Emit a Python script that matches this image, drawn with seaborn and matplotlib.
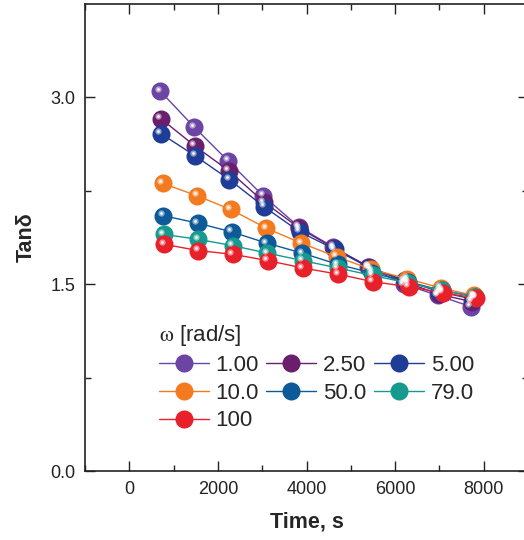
#!/usr/bin/env python3
# Tan delta vs time at several frequencies

import pandas as pd
import matplotlib.pyplot as plt
import matplotlib.transforms as mtransforms
from matplotlib.ticker import MultipleLocator, FixedLocator
import seaborn as sns

# ============================================================================
# DATA
# ============================================================================
omega_labels = ["1.00", "2.50", "5.00", "10.0", "50.0", "79.0", "100"]

time_100 = [700, 1470, 2230, 3020, 3830, 4600, 5390, 6200, 6960, 7710]
time_250 = [710, 1480, 2250, 3040, 3840, 4620, 5410, 6220, 6980, 7730]
time_500 = [710, 1490, 2260, 3050, 3850, 4640, 5430, 6230, 7000, 7750]
time_1000 = [750, 1530, 2290, 3090, 3880, 4680, 5460, 6270, 7030, 7780]
time_5000 = [770, 1550, 2310, 3100, 3900, 4700, 5480, 6290, 7050, 7800]
time_7900 = [780, 1560, 2330, 3110, 3910, 4710, 5490, 6300, 7060, 7810]
time_10000 = [790, 1560, 2340, 3120, 3920, 4720, 5500, 6310, 7080, 7820]

tand_100 = [3.05, 2.76, 2.49, 2.21, 1.96, 1.80, 1.64, 1.50, 1.41, 1.32]
tand_250 = [2.83, 2.61, 2.41, 2.16, 1.95, 1.79, 1.64, 1.52, 1.42, 1.36]
tand_500 = [2.71, 2.53, 2.34, 2.12, 1.92, 1.78, 1.63, 1.53, 1.44, 1.38]
tand_1000 = [2.31, 2.21, 2.10, 1.95, 1.83, 1.72, 1.62, 1.545, 1.47, 1.41]
tand_5000 = [2.05, 1.99, 1.92, 1.83, 1.75, 1.66, 1.59, 1.52, 1.45, 1.40]
tand_7900 = [1.90, 1.86, 1.81, 1.75, 1.69, 1.63, 1.57, 1.51, 1.45, 1.40]
tand_10000 = [1.82, 1.77, 1.74, 1.69, 1.63, 1.58, 1.52, 1.48, 1.43, 1.39]

times = [time_100, time_250, time_500, time_1000, time_5000, time_7900, time_10000]
tands = [tand_100, tand_250, tand_500, tand_1000, tand_5000, tand_7900, tand_10000]

colors = ["#6B44A4", "#6A1F6E", "#1F3D96", "#F47A20", "#0D5A98", "#17998F", "#E8202A"]

rows = []
for lab, t, v in zip(omega_labels, times, tands):
    for ti, vi in zip(t, v):
        rows.append({"omega": lab, "time": ti, "tand": vi})
df = pd.DataFrame(rows)

# ============================================================================
# THEME SETTINGS
# ============================================================================
sns.set_theme(style="ticks")
plt.rcParams['font.family'] = ['Liberation Sans', 'DejaVu Sans']
plt.rcParams['mathtext.fontset'] = 'stix'
plt.rcParams['xtick.direction'] = 'in'
plt.rcParams['ytick.direction'] = 'in'

# ============================================================================
# CREATE PLOT
# ============================================================================
fig = plt.figure(figsize=(5.24, 5.40), dpi=100)
ax = fig.add_axes([85 / 524, 69 / 540, 443 / 524, 467 / 540])

sns.lineplot(data=df, x="time", y="tand", hue="omega", hue_order=omega_labels,
             palette=colors, marker="o", markersize=13, markeredgewidth=0,
             linewidth=1.0, sort=False, estimator=None, ax=ax, legend=False)

# glossy highlight on each ball
shine = mtransforms.offset_copy(ax.transData, fig=fig, x=-2.5, y=2.5, units='dots')
for t, v in zip(times, tands):
    ax.plot(t, v, linestyle='none', marker='o', markersize=4.5,
            markeredgewidth=0, color='white', alpha=0.5, transform=shine)
    ax.plot(t, v, linestyle='none', marker='o', markersize=2,
            markeredgewidth=0, color='white', alpha=0.9, transform=shine)

ax.set_xlim(-1000, 9000)
ax.set_ylim(0, 3.75)
ax.xaxis.set_major_locator(MultipleLocator(2000))
ax.xaxis.set_minor_locator(MultipleLocator(1000))
ax.yaxis.set_major_locator(FixedLocator([0, 1.5, 3.0]))
ax.yaxis.set_minor_locator(FixedLocator([0.75, 2.25]))
ax.set_yticklabels(["0.0", "1.5", "3.0"])
ax.tick_params(which='both', top=True, right=True, width=1.0, color='#222222')
ax.tick_params(which='major', length=7, labelsize=13, pad=7, labelcolor='#222222')
ax.tick_params(which='minor', length=4)
for s in ax.spines.values():
    s.set_visible(True)
    s.set_linewidth(1.2)
    s.set_color('#222222')

ax.set_xlabel("Time, s", fontsize=15.5, fontweight='bold', labelpad=10)
ax.set_ylabel("Tanδ", fontsize=15.5, fontweight='bold', labelpad=10)

# legend, row-major order with three columns
handles = []
for lab, c in zip(omega_labels, colors):
    h, = ax.plot([], [], color=c, marker='o', markersize=13,
                 markeredgewidth=0, linewidth=1.0, label=lab)
    handles.append(h)
order = [0, 3, 6, 1, 4, 2, 5]
leg = ax.legend([handles[i] for i in order], [omega_labels[i] for i in order],
                ncol=3, frameon=False, fontsize=16,
                title=r"$\mathrm{\omega}$ [rad/s]", title_fontsize=16,
                loc='upper left', bbox_to_anchor=(0.146, 0.335),
                handlelength=2.25, handletextpad=0.3, columnspacing=0.35,
                labelspacing=0.3, borderaxespad=0, alignment='left')

# ============================================================================
# SAVE OUTPUT
# ============================================================================
plt.savefig("out.png", dpi=100)
plt.close()
